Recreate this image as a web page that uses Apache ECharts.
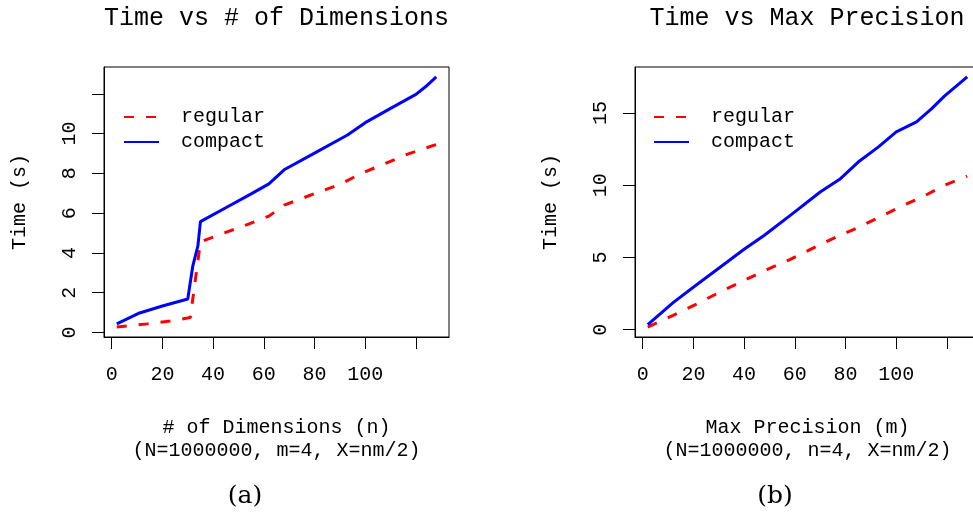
<!DOCTYPE html>
<html><head><meta charset="utf-8">
<script src="https://cdn.jsdelivr.net/npm/echarts@6/dist/echarts.min.js"></script>
<style>html,body{margin:0;padding:0;background:#fff}#c{width:973px;height:513px}</style>
</head><body><div id="c"></div>
<script>
// ---- data ----
const xTicks = [0, 20, 40, 60, 80, 100, 120];
const xTickLabels = [0, 20, 40, 60, 80, 100];
const yTicksA = [0, 2, 4, 6, 8, 10, 12];
const yTickLabelsA = [0, 2, 4, 6, 8, 10];
const yTicksB = [0, 5, 10, 15];
const yTickLabelsB = [0, 5, 10, 15];

// panel (a): time vs # of dimensions
const regularXa = [2, 14, 23, 31, 35, 45, 54, 62, 68, 80, 90, 99, 108, 117, 128];
const regularYa = [0.27, 0.43, 0.57, 0.75, 4.55, 5.03, 5.45, 5.85, 6.4, 6.98, 7.45, 8.03, 8.5, 8.98, 9.45];
const compactXa = [2, 11, 20, 30, 32, 34, 35, 45, 55, 62, 68, 80, 93, 100, 110, 120, 124, 128];
const compactYa = [0.43, 0.98, 1.33, 1.68, 3.35, 4.35, 5.57, 6.27, 6.97, 7.47, 8.18, 9.02, 9.93, 10.55, 11.27, 11.97, 12.38, 12.85];

// panel (b): time vs max precision
const regularXb = [2, 12, 21, 30, 40, 49, 58, 66, 75, 84, 93, 102, 111, 119, 128];
const regularYb = [0.18, 0.99, 1.75, 2.56, 3.41, 4.15, 4.85, 5.54, 6.3, 6.99, 7.75, 8.54, 9.25, 9.99, 10.62];
const compactXb = [2, 12, 21, 30, 40, 48, 60, 70, 78, 85, 93, 100, 108, 114, 119, 128];
const compactYb = [0.35, 1.87, 3.07, 4.25, 5.56, 6.53, 8.15, 9.53, 10.45, 11.6, 12.65, 13.69, 14.38, 15.3, 16.16, 17.49];

const seriesNames = ['regular', 'compact'];
const titles = ['Time vs # of Dimensions', 'Time vs Max Precision'];
const xNames = ['# of Dimensions (n)\n(N=1000000, m=4, X=nm/2)', 'Max Precision (m)\n(N=1000000, n=4, X=nm/2)'];
const yName = 'Time (s)';
const captions = ['(a)', '(b)'];

// ---- chart ----
const MONO = "'Liberation Mono', 'Courier New', monospace";
const zip = (xs, ys) => xs.map((x, i) => [x, ys[i]]);
const chart = echarts.init(document.getElementById('c'), null, {renderer: 'canvas'});

function xAxisFor(gi) {
  return {
    type: 'value', gridIndex: gi, min: -3.04, max: 133.04,
    axisLine: {show: true, onZero: false, lineStyle: {color: '#000', width: 1}},
    splitLine: {show: false},
    axisTick: {show: true, customValues: xTicks, length: 12, inside: false, lineStyle: {color: '#000', width: 1}},
    axisLabel: {customValues: xTickLabels, margin: 28, fontFamily: MONO, fontSize: 20, color: '#000'},
    name: xNames[gi], nameLocation: 'middle', nameGap: 79,
    nameTextStyle: {fontFamily: MONO, fontSize: 20, color: '#000', lineHeight: 23}
  };
}
function yAxisFor(gi, min, max, ticks, labels) {
  return {
    type: 'value', gridIndex: gi, min: min, max: max,
    axisLine: {show: true, onZero: false, lineStyle: {color: '#000', width: 1}},
    splitLine: {show: false},
    axisTick: {show: true, customValues: ticks, length: 12, inside: false, lineStyle: {color: '#000', width: 1}},
    axisLabel: {customValues: labels, margin: 24, rotate: 90, fontFamily: MONO, fontSize: 20, color: '#000'},
    name: yName, nameLocation: 'middle', nameGap: 74,
    nameTextStyle: {fontFamily: MONO, fontSize: 20, color: '#000'}
  };
}
function lineSeries(name, gi, data) {
  const regular = name === 'regular';
  return {
    type: 'line', name: name, xAxisIndex: gi, yAxisIndex: gi, data: data,
    symbol: 'none', showSymbol: false, smooth: false, animation: false,
    color: regular ? '#ff0000' : '#0000ff',
    lineStyle: {width: 3, color: regular ? '#ff0000' : '#0000ff', type: regular ? [10, 12] : 'solid', cap: 'butt'}
  };
}
function legendFor(left) {
  return {
    data: seriesNames, orient: 'vertical', left: left, top: 107, padding: 0,
    itemWidth: 35, itemHeight: 14, itemGap: 5, selectedMode: false,
    itemStyle: {opacity: 0},
    textStyle: {fontFamily: MONO, fontSize: 20, color: '#000', padding: [0, 0, 0, 17]}
  };
}
function textEl(text, x, y, font) {
  return {type: 'text', x: x, y: y, silent: true,
    style: {text: text, font: font, fill: '#000', textAlign: 'center', textVerticalAlign: 'middle', align: 'center', verticalAlign: 'middle'}};
}

chart.setOption({
  animation: false,
  backgroundColor: '#fff',
  grid: [
    {left: 104, top: 67, width: 345, height: 270, show: true, borderColor: '#000', borderWidth: 1, backgroundColor: 'transparent', outerBoundsMode: 'none', containLabel: false},
    {left: 635, top: 67, width: 345, height: 270, show: true, borderColor: '#000', borderWidth: 1, backgroundColor: 'transparent', outerBoundsMode: 'none', containLabel: false}
  ],
  xAxis: [xAxisFor(0), xAxisFor(1)],
  yAxis: [yAxisFor(0, -0.23, 13.35, yTicksA, yTickLabelsA), yAxisFor(1, -0.51, 18.18, yTicksB, yTickLabelsB)],
  legend: [legendFor(123), legendFor(653)],
  series: [
    lineSeries('regular', 0, zip(regularXa, regularYa)),
    lineSeries('compact', 0, zip(compactXa, compactYa)),
    lineSeries('regular', 1, zip(regularXb, regularYb)),
    lineSeries('compact', 1, zip(compactXb, compactYb))
  ],
  graphic: [
    textEl(titles[0], 276.5, 18, "25px " + MONO),
    textEl(titles[1], 807, 18, "25px " + MONO),
    textEl(captions[0], 245, 496, "25px 'DejaVu Serif', serif"),
    textEl(captions[1], 775, 496, "25px 'DejaVu Serif', serif")
  ]
});
</script></body></html>
